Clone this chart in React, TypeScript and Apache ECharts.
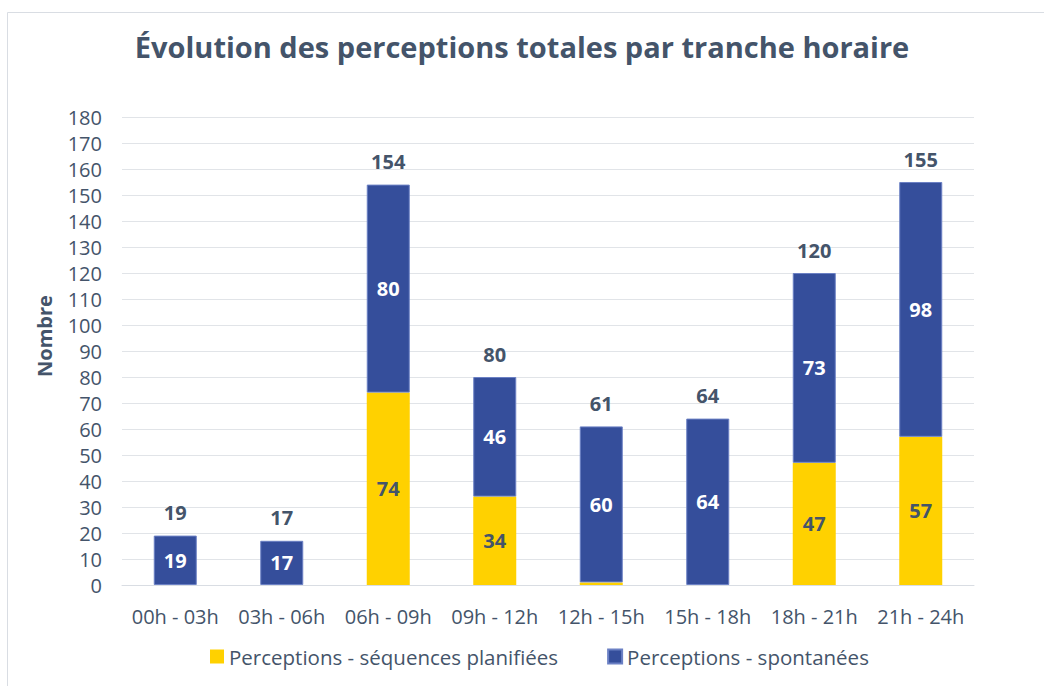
import React, { useEffect, useRef } from "react";
import * as echarts from "echarts";

const categories = ["00h - 03h", "03h - 06h", "06h - 09h", "09h - 12h", "12h - 15h", "15h - 18h", "18h - 21h", "21h - 24h"];
const planned = [0, 0, 74, 34, 1, 0, 47, 57];
const spontaneous = [19, 17, 80, 46, 60, 64, 73, 98];
const totals = [19, 17, 154, 80, 61, 64, 120, 155];
const seriesNames = ["Perceptions - séquences planifiées", "Perceptions - spontanées"];

const FONT = "'Open Sans', 'Noto Sans', sans-serif";
const TXT = "#44546a";

export default function App() {
  const ref = useRef<HTMLDivElement>(null);
  useEffect(() => {
    const chart = echarts.init(ref.current!, null, { renderer: "svg" });
    chart.setOption({
      animation: false,
      backgroundColor: "#ffffff",
      textStyle: { fontFamily: FONT },
      title: {
        text: "Évolution des perceptions totales par tranche horaire",
        left: "center",
        top: 27,
        textStyle: { fontFamily: FONT, fontSize: 29, fontWeight: "bold", color: TXT },
      },
      graphic: [
        {
          type: "rect",
          shape: { x: 7.5, y: 12.5, width: 1200, height: 800 },
          style: { fill: "none", stroke: "#d9dde3", lineWidth: 1 },
          silent: true,
          z: -1,
        },
      ],
      grid: { left: 122, right: 70, top: 117, bottom: 101, containLabel: false },
      legend: {
        data: seriesNames,
        bottom: 14,
        left: 205,
        itemWidth: 14,
        itemHeight: 14,
        itemGap: 49,
        icon: "rect",
        textStyle: { fontFamily: FONT, fontSize: 20.5, color: TXT },
      },
      xAxis: {
        type: "category",
        data: categories,
        axisLine: { lineStyle: { color: "#d9dde3", width: 1 } },
        axisTick: { show: false },
        axisLabel: { fontFamily: FONT, fontSize: 20, color: TXT, margin: 21, interval: 0 },
      },
      yAxis: {
        type: "value",
        min: 0,
        max: 180,
        interval: 10,
        name: "Nombre",
        nameLocation: "middle",
        nameGap: 68,
        nameRotate: 90,
        nameTextStyle: { fontFamily: FONT, fontSize: 20, fontWeight: "bold", color: TXT, padding: [0, 0, 0, 30] },
        axisLine: { show: false },
        axisTick: { show: false },
        splitLine: { lineStyle: { color: "#e1e4e8", width: 1 } },
        axisLabel: { fontFamily: FONT, fontSize: 20, color: TXT, margin: 20 },
      },
      series: [
        {
          name: seriesNames[0],
          type: "bar",
          stack: "total",
          barWidth: 43,
          data: planned,
          itemStyle: { color: "#ffd100" },
          label: {
            show: true,
            position: "inside",
            fontFamily: FONT,
            fontSize: 20,
            fontWeight: "bold",
            color: TXT,
            formatter: (p: any) => (p.value >= 5 ? String(p.value) : ""),
          },
        },
        {
          name: seriesNames[1],
          type: "bar",
          stack: "total",
          barWidth: 43,
          data: spontaneous,
          itemStyle: { color: "#354e9b", borderColor: "#6b80c4", borderWidth: 1 },
          label: {
            show: true,
            position: "inside",
            fontFamily: FONT,
            fontSize: 20,
            fontWeight: "bold",
            color: "#ffffff",
            formatter: (p: any) => (p.value >= 5 ? String(p.value) : ""),
          },
        },
        {
          name: "Total",
          type: "scatter",
          data: totals,
          symbolSize: 0,
          silent: true,
          itemStyle: { opacity: 1 },
          label: {
            show: true,
            position: "top",
            distance: 13,
            fontFamily: FONT,
            fontSize: 20,
            fontWeight: "bold",
            color: TXT,
          },
        },
      ],
    });
    return () => chart.dispose();
  }, []);
  return <div ref={ref} style={{ position: "fixed", left: 0, top: 0, width: 1044, height: 686 }} />;
}
